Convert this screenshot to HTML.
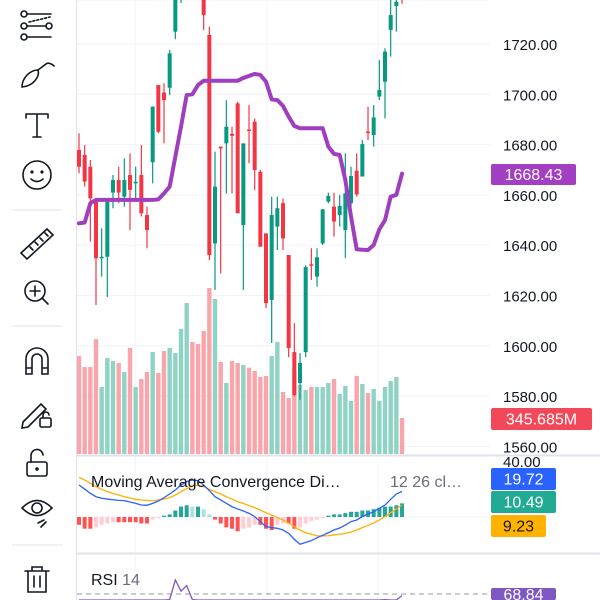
<!DOCTYPE html>
<html><head><meta charset="utf-8"><style>
html,body{margin:0;padding:0;background:#fff;width:600px;height:600px;overflow:hidden}
svg{display:block;font-family:"Liberation Sans",sans-serif}
</style></head><body>
<svg id="c" width="600" height="600" viewBox="0 0 600 600">
<rect x="0" y="0" width="600" height="600" fill="#fff"/>
<g id="toolbar" stroke="#131722" stroke-width="1.6" fill="none" stroke-linecap="round">
 <g><circle cx="24" cy="14" r="3"/><circle cx="24" cy="26" r="3"/><circle cx="24" cy="37" r="3"/><circle cx="49" cy="26" r="3"/><line x1="27" y1="14" x2="51" y2="14"/><line x1="27" y1="26" x2="46" y2="26"/><line x1="27" y1="37" x2="51" y2="37"/><line x1="29" y1="22" x2="50" y2="17" stroke-dasharray="2 2"/></g>
 <g><path d="M22 87 C22 78 30 70 38 70 C40 76 34 86 22 87 Z"/><path d="M38 70 L46 64 C48 62 52 64 54 66"/></g>
 <g><path d="M26 114 H48 M26 114 V118 M48 114 V118 M37 114 V137 M33 137 H41"/></g>
 <g><circle cx="37" cy="175" r="14"/><circle cx="32" cy="172" r="0.8" fill="#131722"/><circle cx="42" cy="172" r="0.8" fill="#131722"/><path d="M31 179 Q37 184 43 179"/></g>
 <line x1="12" y1="210" x2="62" y2="210" stroke="#e0e3eb" stroke-width="1"/>
 <g><path d="M21 253 L47 229 L53 235 L27 259 Z"/><path d="M30 247 l3 3 M35 242 l3 3 M40 238 l3 3 M45 233 l3 3"/></g>
 <g><circle cx="35" cy="291" r="10"/><path d="M42 298 L48 304 M35 286 V296 M30 291 H40"/></g>
 <line x1="12" y1="326" x2="62" y2="326" stroke="#e0e3eb" stroke-width="1"/>
 <g><path d="M26 374 V359 A11 11 0 0 1 48 359 V374 H42 V359 A5 5 0 0 0 32 359 V374 Z M26 368 H32 M42 368 H48"/></g>
 <g><path d="M23 422 L41 404 L46 409 L28 427 L22 428 Z"/><rect x="40" y="418" width="11" height="9" rx="1.5"/><path d="M43 418 V415 A3 3 0 0 1 49 415"/></g>
 <g><rect x="27" y="462" width="20" height="14" rx="2"/><path d="M31 462 V456 A6 6 0 0 1 43 455"/><circle cx="37" cy="469" r="1" fill="#131722"/></g>
 <g><path d="M22 508 Q37 493 52 508 Q37 523 22 508 Z"/><circle cx="37" cy="508" r="5"/><path d="M38 523 l6 -3 M41 527 l5 -5"/></g>
 <line x1="12" y1="545" x2="62" y2="545" stroke="#e0e3eb" stroke-width="1"/>
 <g><path d="M25 571 H49 M32 571 V567 H42 V571 M28 571 V592 H46 V571 M34 576 V587 M40 576 V587"/></g>
</g>
<line x1="76.5" y1="0" x2="76.5" y2="600" stroke="#e0e3eb" stroke-width="1"/>
<g id="grid"></g>
<g id="vol"></g>
<g id="candles"></g>
<g id="ma"></g>
<g id="macd"></g>
<g id="rsi"></g>
<g id="axis"></g>
<line x1="77" y1="455.5" x2="600" y2="455.5" stroke="#e0e3eb" stroke-width="2"/>
<line x1="77" y1="553.5" x2="600" y2="553.5" stroke="#e0e3eb" stroke-width="2"/>
<text x="91" y="487" font-size="16" fill="#131722">Moving Average Convergence Di…</text>
<text x="390" y="487" font-size="16" fill="#6a6d78">12 26 cl…</text>
<text x="91" y="585" font-size="16" fill="#131722">RSI <tspan fill="#6a6d78">14</tspan></text>
</svg>
<script>
const opens=[1677.9,1675.9,1671.2,1658.0,1634.8,1635.4,1660.9,1665.9,1659.3,1667.9,1664.8,1667.9,1652.0,1673.0,1703.7,1700.7,1702.6,1724.9,1740,1748,1765,1755,1750,1723.6,1640.7,1679.2,1680.5,1684.3,1696.4,1648.0,1686.0,1689.1,1669.2,1644.7,1618.2,1647.4,1656.7,1636.1,1597.5,1585.2,1597.5,1632.4,1627.5,1640.7,1657.3,1655.3,1652.0,1646.0,1656.7,1669.6,1667.3,1685.2,1683.8,1699.1,1705.0,1725.6,1735.1,1740];
const closes=[1671.2,1665.3,1658.6,1634.8,1635.4,1657.3,1665.9,1660.9,1665.9,1662.0,1665.2,1652.7,1646.0,1695.1,1685.1,1697.7,1716.3,1745,1755,1762,1752,1745,1731.5,1636.1,1663.3,1678.5,1687.1,1683.5,1652.7,1680.5,1685.8,1669.9,1639.4,1617.0,1652.0,1654.7,1642.7,1599.1,1580.4,1593.2,1631.3,1632.0,1635.2,1654.3,1659.6,1649.4,1655.6,1660.6,1667.5,1660.2,1680.2,1684.6,1690.8,1701.7,1717.0,1731.5,1736.8,1738];
const highs=[1684.5,1679.8,1673.9,1658.0,1646.7,1658.0,1667.9,1671.2,1674.5,1676.5,1671.2,1679.8,1655.3,1695.1,1703.7,1704.4,1717.6,1750,1760,1768,1770,1760,1755,1726.9,1677.2,1679.2,1697.7,1687.1,1697.1,1680.5,1695.7,1690.4,1669.9,1644.7,1659.3,1659.3,1658.6,1636.1,1609.0,1597.1,1632.0,1638.8,1638.8,1654.3,1660.9,1660.9,1660.0,1676.5,1671.2,1676.5,1681.8,1695.1,1695.7,1713.6,1718.3,1737.5,1740,1742];
const lows=[1668.6,1663.3,1641.4,1616.2,1627.5,1619.4,1654.7,1656.7,1655.3,1646.0,1658.0,1651.4,1638.8,1664.6,1684.5,1680.5,1699.7,1721.9,1736.3,1742,1745,1738,1725.6,1634.0,1622.2,1628.8,1660.6,1660.6,1652.7,1622.2,1672.6,1662.0,1639.4,1615.0,1601.1,1638.1,1638.1,1595.5,1580.0,1578.5,1595.5,1626.2,1623.5,1640.1,1656.7,1643.4,1647.4,1634.8,1655.3,1659.3,1667.3,1681.8,1679.2,1697.7,1690.4,1715.0,1724.9,1736];
const volumes=[942,836,836,1105,644,923,894,875,788,1019,644,721,788,981,779,990,1019,971,1202,1452,1077,1058,1183,1596,1490,885,683,894,875,856,830,798,740,750,942,1077,596,538,808,663,615,644,644,644,683,721,577,654,510,750,673,587,625,510,644,702,740,346];
const maValues=[1648.7,1649.0,1656.7,1658,1658,1658,1658,1658,1658,1658,1658,1658,1658,1658,1658.2,1660.6,1663.3,1675.2,1687.1,1699.7,1700,1703.7,1705.4,1705.4,1705.4,1705.4,1705.4,1705.4,1705.4,1706.5,1707.3,1708.1,1707.7,1705.0,1698.0,1697.7,1695.4,1691.1,1687.4,1686.5,1686.5,1686.5,1686.5,1686.5,1679.2,1676.3,1675.9,1665.9,1651.4,1638.4,1638.2,1638.1,1640.1,1646.3,1650.0,1659.3,1660.0,1668.43];
const macdLine=[24.6,21.5,18.2,15.6,14.4,13.8,13.3,12.8,12.6,11.5,10.5,9.2,9.0,10.5,12.3,14.9,17.7,20.8,24.6,27.2,28.5,27.9,24.6,20.3,15.6,13.1,10.5,7.9,6.2,4.6,2.8,0.3,-3.6,-7.4,-8.2,-8.7,-10,-12.6,-17.2,-21,-19.5,-18.2,-15.9,-14.1,-12.1,-10,-8.5,-6.2,-3.6,-2.3,0.3,2.3,4.1,6.7,9.2,13.6,17.7,19.72];
const signalLine=[30.5,28.5,25.9,23.3,21.3,19.5,18.2,16.9,15.6,14.6,13.6,13.1,12.8,12.5,13.1,13.8,14.9,16.9,19.5,22.0,23.8,24.6,23.3,21.3,19.5,17.7,15.6,13.8,11.8,10.5,8.7,7.2,5.4,3.3,1.5,-0.5,-2.3,-4.8,-7.4,-10,-12.1,-13.3,-14.4,-14.6,-14.4,-13.8,-13.3,-12.6,-11.5,-10,-8.2,-6.4,-4.6,-2.3,0.3,3.3,6.2,9.23];
const histValues=[-6,-9,-9,-8,-6,-5,-4,-4,-4,-4,-4,-5,-5,-2,-1,1,2,5,8,9,8,8,6,2,-2,-5,-8,-9,-11,-9,-8,-6,-6,-9,-10,-6,-5,-5,-9,-8,-5,-3,-2,-1,1,2,2,3,4,4,5,5,6,7,8,8,9,10.49];
const rsiValues=[55,52,50,45,44,48,52,52,54,53,53,50,48,58,62,60,66,80,72,76,66,60,56,45,50,52,55,54,48,52,54,50,44,40,46,48,45,38,34,38,46,46,48,52,54,52,53,55,57,55,60,61,62,64,66,60,64,68.84];
const priceTicks=[1740,1720,1700,1680,1660,1640,1620,1600,1580,1560];

const NS="http://www.w3.org/2000/svg";
function mk(tag,attrs,parent){const e=document.createElementNS(NS,tag);for(const k in attrs)e.setAttribute(k,attrs[k]);parent.appendChild(e);return e;}
const xOf=i=>79+i*5.667;
const yPrice=p=>44+(1720-p)*2.515;
const yVol=v=>454-v*0.104;
const yMacd=v=>517-v*1.3;
const yRsi=v=>594-(v-70)*1.4;
const G=id=>document.getElementById(id);

const grid=G('grid');
[135,267,378].forEach(x=>{const l=mk('line',{x1:x,y1:0,x2:x,y2:600,stroke:'#f0f3fa','stroke-width':1},grid);

});
priceTicks.forEach(p=>{const l=mk('line',{x1:77,y1:Math.max(0,yPrice(p)),x2:490,y2:Math.max(0,yPrice(p)),stroke:'#f0f3fa','stroke-width':1},grid);

});
[0].forEach(v=>{const l=mk('line',{x1:77,y1:yMacd(v),x2:490,y2:yMacd(v),stroke:'#f0f3fa','stroke-width':1},grid);

});

const defs=mk('defs',{},G('c'));
const cp=mk('clipPath',{id:'mainclip'},defs);mk('rect',{x:77,y:0,width:413,height:455},cp);
const cp2=mk('clipPath',{id:'rsiclip'},defs);mk('rect',{x:77,y:555,width:413,height:45},cp2);
const cp3=mk('clipPath',{id:'frameclip'},defs);mk('rect',{x:0,y:0,width:600,height:600},cp3);
G('vol').setAttribute('clip-path','url(#mainclip)');
G('candles').setAttribute('clip-path','url(#mainclip)');
G('ma').setAttribute('clip-path','url(#mainclip)');
G('rsi').setAttribute('clip-path','url(#rsiclip)');
G('axis').setAttribute('clip-path','url(#frameclip)');

volumes.forEach((v,i)=>{const up=closes[i]>=opens[i];
const r=mk('rect',{x:xOf(i)-2.2,y:yVol(v),width:4.4,height:454-yVol(v),fill:up?'#8fd3c5':'#f8a5ab'},G('vol'));

});

opens.forEach((o,i)=>{const c=closes[i],up=c>=o,col=up?'#089981':'#f23645';
const g=mk('g',{},G('candles'));


const yh=Math.max(0,yPrice(highs[i])),yl=Math.max(0,yPrice(lows[i]));
if(yl>0){mk('line',{x1:xOf(i),x2:xOf(i),y1:yh,y2:yl,stroke:col,'stroke-width':1.2},g);}
const t=Math.max(0,yPrice(Math.max(o,c))),b=Math.max(0,yPrice(Math.min(o,c)));
if(b>0){mk('rect',{x:xOf(i)-2,y:t,width:4,height:Math.max(1.5,b-t),fill:col},g);}});

const maPath=mk('path',{d:maValues.map((v,i)=>(i?'L':'M')+xOf(i)+' '+yPrice(v)).join(' '),fill:'none',stroke:'#a03ec0','stroke-width':4,'stroke-linejoin':'round','stroke-linecap':'round'},G('ma'));



histValues.forEach((v,i)=>{const prev=i?histValues[i-1]:v;let col;
if(v>=0)col=v>=prev?'#26a69a':'#b2dfdb';else col=v<=prev?'#ff5252':'#ffcdd2';
const y0=yMacd(0),y1=yMacd(v);
const r=mk('rect',{x:xOf(i)-2,y:Math.min(y0,y1),width:4,height:Math.abs(y1-y0),fill:col},G('macd'));

});
const sig=mk('path',{d:signalLine.map((v,i)=>(i?'L':'M')+xOf(i)+' '+yMacd(v)).join(' '),fill:'none',stroke:'#ffb000','stroke-width':1.3},G('macd'));


const ml=mk('path',{d:macdLine.map((v,i)=>(i?'L':'M')+xOf(i)+' '+yMacd(v)).join(' '),fill:'none',stroke:'#2962ff','stroke-width':1.3},G('macd'));



const dl=mk('line',{x1:77,x2:490,y1:yRsi(70),y2:yRsi(70),stroke:'#9598a1','stroke-width':1,'stroke-dasharray':'5 4'},G('rsi'));


const rl=mk('path',{d:rsiValues.map((v,i)=>(i?'L':'M')+xOf(i)+' '+Math.min(600,yRsi(v))).join(' '),fill:'none',stroke:'#7e57c2','stroke-width':1.3},G('rsi'));



const ax=G('axis');
priceTicks.forEach(p=>{const t=mk('text',{x:503,y:yPrice(p)+6,'font-size':15,fill:'#131722'},ax);t.textContent=p.toFixed(2);

});
const t40=mk('text',{x:503,y:467,'font-size':15,fill:'#131722'},ax);t40.textContent='40.00';


function badge(x,y,w,h,bg,fg,txt,name){const g=mk('g',{},ax);


mk('rect',{x:x,y:y,width:w,height:Math.min(h,600-y),rx:2,fill:bg},g);
const t=mk('text',{x:x+w/2,y:Math.min(y+h/2+5.5,600),'font-size':16,fill:fg,'text-anchor':'middle'},g);t.textContent=txt;}
badge(491,164,85,21,'#a33fc2','#fff',maValues[maValues.length-1].toFixed(2),'ma-value-badge');
badge(491,408,101,22,'#f2495a','#fff',(volumes[volumes.length-1]-0.315).toFixed(3)+'M','volume-value-badge');
badge(491,468,65,22,'#2962ff','#fff',macdLine[macdLine.length-1].toFixed(2),'macd-value-badge');
badge(491,491,65,22,'#22ab94','#fff',histValues[histValues.length-1].toFixed(2),'histogram-value-badge');
badge(491,515,55,22,'#ffb300','#131722',signalLine[signalLine.length-1].toFixed(2),'signal-value-badge');
badge(491,588,65,22,'#7e57c2','#fff',rsiValues[rsiValues.length-1].toFixed(2),'rsi-value-badge');
</script>
</body></html>
